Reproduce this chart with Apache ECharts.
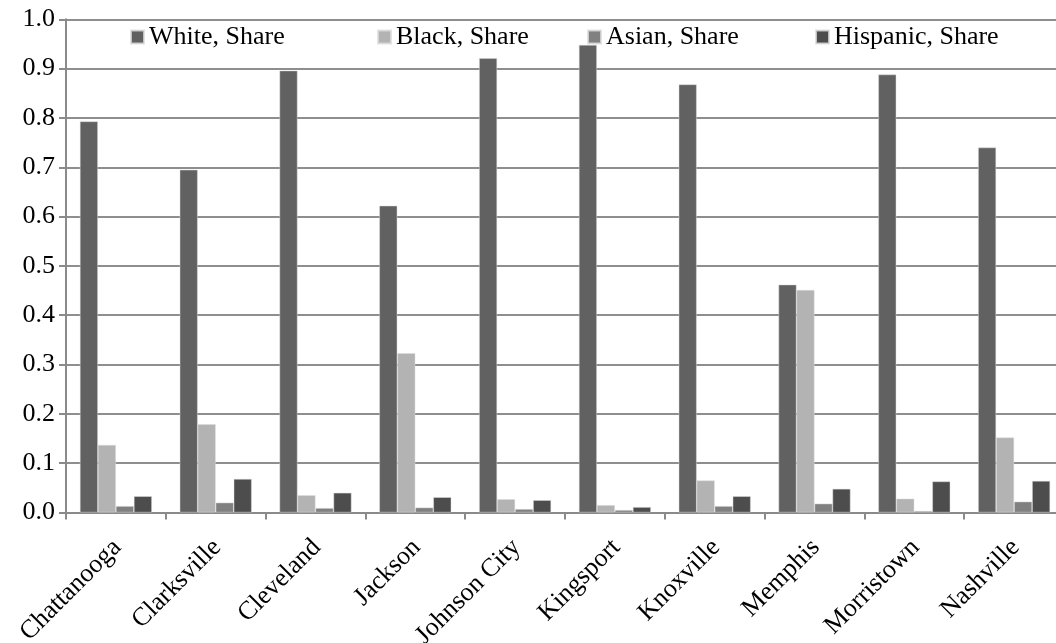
<!DOCTYPE html>
<html>
<head>
<meta charset="utf-8">
<script src="https://cdn.jsdelivr.net/npm/echarts@6/dist/echarts.min.js"></script>
<style>
html,body{margin:0;padding:0;background:#fff;}
#chart{width:1056px;height:643px;}
</style>
</head>
<body>
<div id="chart"></div>
<script>
var categories = ['Chattanooga','Clarksville','Cleveland','Jackson','Johnson City','Kingsport','Knoxville','Memphis','Morristown','Nashville'];
var seriesNames = ['White, Share','Black, Share','Asian, Share','Hispanic, Share'];
var whiteShare = [0.793, 0.695, 0.896, 0.622, 0.921, 0.948, 0.868, 0.462, 0.888, 0.740];
var blackShare = [0.137, 0.179, 0.035, 0.323, 0.027, 0.015, 0.065, 0.451, 0.028, 0.152];
var asianShare = [0.013, 0.020, 0.009, 0.010, 0.007, 0.005, 0.013, 0.018, 0.003, 0.022];
var hispanicShare = [0.033, 0.068, 0.040, 0.031, 0.025, 0.011, 0.033, 0.048, 0.063, 0.064];
var yTickLabels = ['0.0','0.1','0.2','0.3','0.4','0.5','0.6','0.7','0.8','0.9','1.0'];

var colors = ['#616161','#b3b3b3','#808080','#4d4d4d'];
var dataSets = [whiteShare, blackShare, asianShare, hispanicShare];
var legendLefts = [130, 377, 587, 815];
var font = '"Liberation Serif", "Times New Roman", serif';

var chart = echarts.init(document.getElementById('chart'));
var legends = seriesNames.map(function(n, i){
  return {
    data: [n], left: legendLefts[i], top: 24, padding: 0,
    icon: 'rect', itemWidth: 13, itemHeight: 13,
    textStyle: {fontFamily: font, fontSize: 26, color: '#000'},
    selectedMode: false
  };
});
var series = seriesNames.map(function(n, i){
  return {
    name: n, type: 'bar', data: dataSets[i],
    barWidth: 18, barGap: '0%', barCategoryGap: '28%',
    itemStyle: {color: colors[i], borderColor: 'rgba(220,220,220,0.8)', borderWidth: 0.6},
    emphasis: {disabled: true}
  };
});
chart.setOption({
  animation: false,
  color: colors,
  legend: legends,
  grid: {left: 66, top: 19.3, width: 998, height: 493.2, containLabel: false, outerBoundsMode: 'none'},
  xAxis: {
    type: 'category', data: categories, boundaryGap: true,
    axisLine: {lineStyle: {color: '#8a8a8a', width: 2}},
    axisTick: {show: true, alignWithLabel: false, length: 7, lineStyle: {color: '#8a8a8a', width: 2}},
    axisLabel: {rotate: 45, margin: 14, interval: 0, verticalAlign: 'top', padding: [0, 11, 0, 0],
      fontFamily: font, fontSize: 26, color: '#000'}
  },
  yAxis: {
    type: 'value', min: 0, max: 1, interval: 0.1,
    axisLine: {show: true, lineStyle: {color: '#8a8a8a', width: 2}},
    axisTick: {show: true, length: 7, lineStyle: {color: '#8a8a8a', width: 2}},
    splitLine: {show: true, lineStyle: {color: '#8e8e8e', width: 2}},
    axisLabel: {margin: 11, fontFamily: font, fontSize: 26, color: '#000',
      formatter: function(v){ return yTickLabels[Math.round(v*10)]; }}
  },
  series: series
});
</script>
</body>
</html>
